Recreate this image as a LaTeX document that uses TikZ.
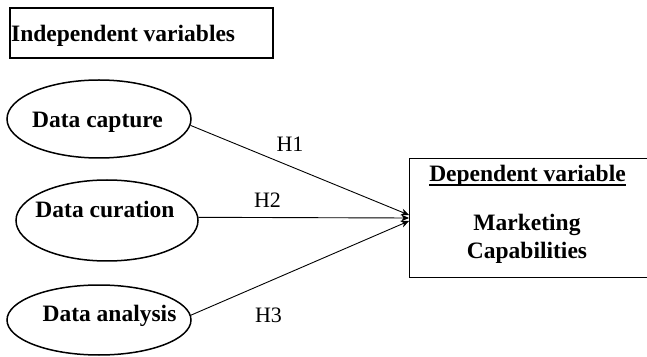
\documentclass[tikz,border=0pt]{standalone}
\usepackage{fontspec}
\setmainfont{Liberation Serif}
\usetikzlibrary{arrows.meta,shapes.geometric}
\begin{document}
\begin{tikzpicture}[x=1pt,y=1pt,
  boxframe/.style={draw,line width=1.4pt},
  oval/.style={draw,ellipse,line width=1.5pt,inner sep=0pt},
  bigtext/.style={inner sep=0pt,font=\fontsize{23.5}{28}\selectfont\bfseries},
  hlabel/.style={inner sep=0pt,anchor=base,font=\fontsize{22}{26}\selectfont},
  link/.style={line width=0.9pt,-{Stealth[length=8pt,width=7pt]}}]
\clip (0,0) rectangle (647,356);
% top box
\node[boxframe,minimum width=263pt,minimum height=50pt,inner sep=0pt] (ibox) at (141.5,323) {};
\node[bigtext,anchor=base west] (itext) at (11,314) {Independent variables};
% ellipses
\node[oval,minimum width=184pt,minimum height=78pt] (e1) at (99,237) {};
\node[oval,minimum width=182pt,minimum height=81pt] (e2) at (107,135.5) {};
\node[oval,minimum width=184pt,minimum height=70pt] (e3) at (99,36) {};
\node[bigtext,anchor=base] (t1) at (97.5,228) {Data capture};
\node[bigtext,anchor=base] (t2) at (105,138) {Data curation};
\node[bigtext,anchor=base] (t3) at (109.5,34.3) {Data analysis};
% dependent box
\node[boxframe,minimum width=240pt,minimum height=119pt,inner sep=0pt,anchor=north west] (dbox) at (409,198) {};
\node[bigtext,anchor=base] (dep) at (527.5,174.5) {Dependent variable};
\draw[line width=1.8pt] ([yshift=-3.5pt]dep.base west) -- ([yshift=-3.5pt]dep.base east);
\node[bigtext,anchor=base] (m1) at (527,125.5) {Marketing};
\node[bigtext,anchor=base] (m2) at (527,98) {Capabilities};
% arrow targets
\coordinate (a1) at (409,141);
\coordinate (a2) at (409,138);
\coordinate (a3) at (409,135);
\draw[link] (e1.-4) -- (a1);
\draw[link] (e2.2) -- (a2);
\draw[link] (e3.3) -- (a3);
% labels
\node[hlabel] (h1) at (290,204.3) {H1};
\node[hlabel] (h2) at (267.5,148.7) {H2};
\node[hlabel] (h3) at (268.5,34) {H3};
\end{tikzpicture}
\end{document}
